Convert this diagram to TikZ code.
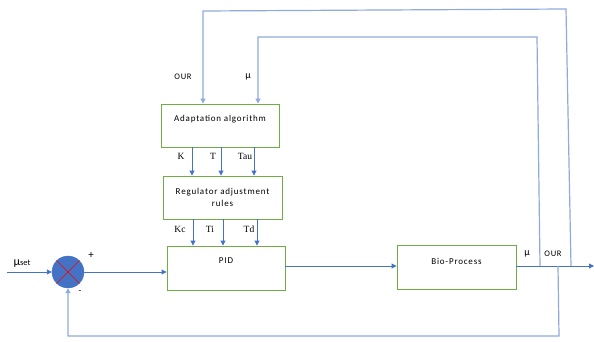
\documentclass[tikz,border=0pt]{standalone}
\usepackage{fontspec}
\setmainfont{Carlito}
\newfontfamily\serifx{Liberation Serif}
\usetikzlibrary{arrows.meta}
\definecolor{lb}{HTML}{4472C4}
\definecolor{lb2}{HTML}{8FAADC}
\definecolor{gb}{HTML}{70AD47}
\begin{document}
\begin{tikzpicture}[x=1pt,y=-1pt,
  blk/.style={draw=gb, line width=0.9pt, minimum width=118pt, minimum height=43pt, inner sep=0pt, font=\fontsize{9}{10.5}\selectfont\addfontfeature{LetterSpace=9}, align=center},
  wire/.style={draw=lb, line width=0.9pt},
  wire2/.style={draw=lb2, line width=1.2pt},
  arr/.style={-{Triangle[width=5pt,length=5pt]}},
  lbl/.style={font=\fontsize{8.5}{9}\selectfont\addfontfeature{LetterSpace=8}, inner sep=0pt},
  slbl/.style={font=\serifx\fontsize{9.5}{10}\selectfont, inner sep=0pt}]
\useasboundingbox (0,0) rectangle (594,342);
\node[blk] (ad) at (220,125.5) {Adaptation algorithm\\[3pt]};
\node[blk, minimum width=119pt] (reg) at (222.5,197.5) {Regulator adjustment\\[2pt] rules};
\node[blk, minimum height=44pt] (pid) at (226,268) {PID\\[4pt]};
\node[blk, minimum width=119pt, minimum height=44pt] (bio) at (456.5,267) {Bio-Process\\[1pt]};
\node[circle, fill=lb, draw=lb, minimum size=32pt, inner sep=0pt] (sum) at (68,272) {};
\draw[red, line width=0.6pt] (sum.45) -- (sum.225) (sum.135) -- (sum.315);
\coordinate (in) at (7,272);
\coordinate (out) at (594,266);
\coordinate (tmu) at (540,266);
\coordinate (tour) at (571,266);
\coordinate (tfb) at (558,266);
\coordinate (mu1) at (537,37);
\coordinate (mu2) at (258,37);
\coordinate (our1) at (566,9);
\coordinate (our2) at (203,11);
\coordinate (fb1) at (559,336);
\draw[wire, arr] (in) -- (sum.west);
\draw[wire, arr] (sum.east) -- (sum.east -| pid.west);
\draw[wire, arr] ([yshift=2pt]pid.east) -- ([yshift=2pt]pid.east -| bio.west);
\draw[wire, arr] (bio.east |- out) -- (out);
\draw[wire2, arr] (tmu) -- (mu1) -- (mu2) -- (mu2 |- ad.north);
\draw[wire2, arr] (tour) -- (our1) -- (our2) -- (our2 |- ad.north);
\draw[wire2, arr] (tfb) -- (fb1) -- (fb1 -| sum) -- (sum.south);
\foreach \dx in {-28,1,34}
  \draw[wire, arr] ([xshift=\dx pt]ad.south) -- ([xshift=\dx pt]ad.south |- reg.north);
\foreach \dx in {-29.5,0.5,34.5}
  \draw[wire, arr] ([xshift=\dx pt]reg.south) -- ([xshift=\dx pt]reg.south |- pid.north);
\node[lbl] (lour) at (183,77) {OUR};
\node[lbl, font=\fontsize{10}{11}\selectfont] (lmu) at (248,77) {µ};
\node[slbl] (lk) at (181,156) {K};
\node[slbl] (lt) at (213,156) {T};
\node[slbl] (ltau) at (245,156) {Tau};
\node[slbl] (lkc) at (180,229) {Kc};
\node[slbl] (lti) at (210,229) {Ti};
\node[slbl] (ltd) at (249,229) {Td};
\node[lbl, font=\fontsize{10}{11}\selectfont] (omu) at (527,254) {µ};
\node[lbl] (oour) at (553,254) {OUR};
\node[inner sep=0pt, font=\fontsize{12}{13}\selectfont] (lset) at (22,264) {µ\fontsize{8.5}{9}\selectfont set};
\node[inner sep=0pt, font=\fontsize{11}{12}\selectfont] (plus) at (91,255) {+};
\node[inner sep=0pt, font=\fontsize{9}{10}\selectfont] (minus) at (80,292) {-};
\end{tikzpicture}
\end{document}
